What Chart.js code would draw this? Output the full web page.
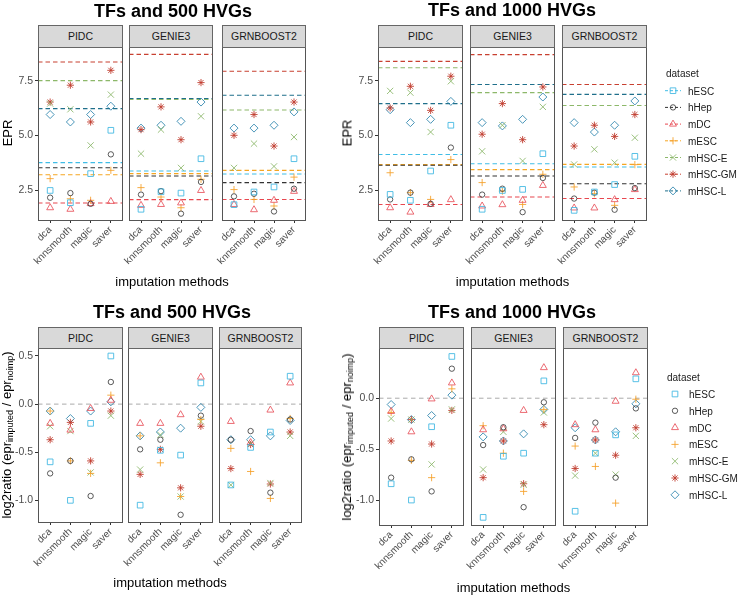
<!DOCTYPE html>
<html>
<head>
<meta charset="utf-8">
<script src="https://cdn.jsdelivr.net/npm/chart.js@4.4.0/dist/chart.umd.min.js"></script>
<style>
  body { margin: 0; background: #fff; width: 738px; height: 595px; position: relative; overflow: hidden;
         font-family: 'Liberation Sans', Arial, sans-serif; }
  canvas { position: absolute; left: 0; top: 0; }
  .txt { position: absolute; white-space: nowrap; color: #000; }
  .title { font-weight: bold; font-size: 18px; transform: translate(-50%, -50%); }
  .xlab { font-size: 13px; transform: translate(-50%, -50%); }
  .ylab { font-size: 13px; transform: translate(-50%, -50%) rotate(-90deg); }
  .ylab sub { font-size: 9px; vertical-align: -2px; }
  .strip { position: absolute; box-sizing: border-box; background: #d9d9d9; border: 1px solid #666;
           font-size: 10.5px; color: #1a1a1a; text-align: center; }
  .leg { font-size: 10px; color: #1a1a1a; transform: translateY(-50%); }
</style>
</head>
<body>
<script>
Chart.defaults.font.family = "'Liberation Sans', Arial, sans-serif";
Chart.defaults.color = '#4d4d4d';

const methods = ['dca', 'knnsmooth', 'magic', 'saver'];
const algorithms = ['PIDC', 'GENIE3', 'GRNBOOST2'];
const datasetNames = ['hESC', 'hHep', 'mDC', 'mESC', 'mHSC-E', 'mHSC-GM', 'mHSC-L'];
const pointColors = ['#3fb8e2dd', '#333333cc', '#e8545edd', '#f5a02add', '#8cb86add', '#c0392bdd', '#2f86aedd'];
const lineColors  = ['#40bde6', '#333333', '#e8474f', '#f5a623', '#8db86a', '#c84030', '#1f6f8b'];
const pointShapes = ['rect', 'circle', 'triangle', 'cross', 'crossRot', 'star', 'rectRot'];
const pointRadii  = [4, 2.7, 4, 3.6, 4.4, 3.6, 4];

const eprTicks = [2.5, 5.0, 7.5];
const ratioTicks500 = [-1.0, -0.5, 0.0, 0.5];
const ratioTicks1000 = [-1.0, -0.5, 0.0];
const zeroLine = 0;

// EPR, rows in datasetNames order, columns in methods order
const epr500Pidc = [
  [2.48, 1.92, 3.25, 5.23],
  [2.15, 2.36, 1.87, 4.13],
  [1.69, 1.62, 1.88, 1.98],
  [3.02, 2.10, 2.03, 3.40],
  [6.45, 6.19, 4.54, 6.86],
  [6.52, 7.29, 5.61, 7.97],
  [5.95, 5.61, 5.95, 6.33]
];
const epr500Genie3 = [
  [1.62, 2.42, 2.36, 3.93],
  [2.29, 2.45, 1.42, 2.87],
  [1.80, 1.84, 1.91, 2.48],
  [2.61, 2.18, 1.69, 2.99],
  [4.16, 5.26, 3.51, 5.87],
  [5.26, 6.30, 4.80, 7.41],
  [5.33, 5.46, 5.64, 6.52]
];
const epr500Grnboost2 = [
  [1.83, 2.41, 2.64, 3.93],
  [2.21, 2.33, 1.52, 2.56],
  [1.84, 1.60, 2.03, 2.44],
  [2.52, 2.07, 1.77, 3.09],
  [3.51, 4.62, 3.58, 4.92],
  [5.00, 5.95, 4.51, 6.52],
  [5.33, 5.33, 5.46, 6.07]
];
const epr1000Pidc = [
  [2.30, 2.03, 3.37, 5.46],
  [2.07, 2.38, 1.87, 4.44],
  [1.69, 1.49, 1.84, 2.06],
  [3.29, 2.38, 2.07, 3.89],
  [7.03, 6.95, 5.15, 7.47],
  [6.25, 7.24, 6.14, 7.70],
  [6.17, 5.58, 5.73, 6.55]
];
const epr1000Genie3 = [
  [1.62, 2.48, 2.53, 4.16],
  [2.29, 2.56, 1.49, 3.05],
  [1.77, 1.83, 2.03, 2.71],
  [2.84, 2.45, 1.84, 3.22],
  [4.27, 5.46, 3.83, 6.30],
  [5.05, 6.45, 4.80, 7.21],
  [5.58, 5.43, 5.73, 6.75]
];
const epr1000Grnboost2 = [
  [1.57, 2.41, 2.75, 4.04],
  [2.11, 2.38, 1.60, 2.59],
  [1.68, 1.68, 2.06, 2.52],
  [2.64, 2.33, 1.80, 3.66],
  [3.67, 4.36, 3.75, 4.89],
  [4.51, 5.46, 4.95, 5.95],
  [5.58, 5.15, 5.46, 6.57]
];

// EPR without imputation (dashed lines), datasetNames order
const noimp500Pidc      = [3.75, 3.52, 1.91, 3.20, 7.50, 8.35, 6.22];
const noimp500Genie3    = [3.37, 3.14, 2.06, 3.25, 6.64, 8.70, 6.68];
const noimp500Grnboost2 = [3.23, 2.84, 2.07, 3.40, 6.16, 7.93, 6.83];
const noimp1000Pidc      = [4.12, 3.63, 1.84, 3.66, 8.09, 8.38, 6.45];
const noimp1000Genie3    = [3.70, 3.14, 2.18, 3.43, 6.95, 8.69, 7.32];
const noimp1000Grnboost2 = [3.55, 2.79, 2.11, 3.67, 6.36, 7.32, 6.87];

// log2(epr_imputed / epr_noimp)
const ratio500Pidc = [
  [-0.60, -1.00, -0.20, 0.50],
  [-0.72, -0.59, -0.955, 0.23],
  [-0.20, -0.27, -0.045, 0.04],
  [-0.072, -0.59, -0.72, 0.093],
  [-0.23, -0.28, -0.71, -0.12],
  [-0.37, -0.19, -0.59, -0.072],
  [-0.072, -0.15, -0.072, 0.024]
];
const ratio500Genie3 = [
  [-1.05, -0.48, -0.53, 0.22],
  [-0.47, -0.37, -1.15, -0.12],
  [-0.20, -0.20, -0.11, 0.28],
  [-0.33, -0.61, -0.96, -0.16],
  [-0.68, -0.32, -0.96, -0.18],
  [-0.73, -0.47, -0.87, -0.23],
  [-0.33, -0.29, -0.25, -0.034]
];
const ratio500Grnboost2 = [
  [-0.84, -0.45, -0.29, 0.29],
  [-0.37, -0.28, -0.92, -0.16],
  [-0.18, -0.40, -0.062, 0.22],
  [-0.46, -0.70, -0.98, -0.15],
  [-0.84, -0.41, -0.82, -0.33],
  [-0.67, -0.42, -0.83, -0.29],
  [-0.37, -0.37, -0.33, -0.17]
];
const ratio1000Pidc = [
  [-0.84, -1.00, -0.28, 0.41],
  [-0.78, -0.60, -0.915, 0.29],
  [-0.13, -0.33, -0.007, 0.15],
  [-0.14, -0.61, -0.78, 0.092],
  [-0.20, -0.21, -0.65, -0.11],
  [-0.42, -0.21, -0.45, -0.12],
  [-0.062, -0.21, -0.17, 0.03]
];
const ratio1000Genie3 = [
  [-1.17, -0.57, -0.54, 0.17],
  [-0.46, -0.285, -1.07, -0.04],
  [-0.31, -0.30, -0.12, 0.30],
  [-0.27, -0.54, -0.915, -0.11],
  [-0.70, -0.33, -0.85, -0.14],
  [-0.78, -0.42, -0.84, -0.26],
  [-0.38, -0.42, -0.35, -0.11]
];
const ratio1000Grnboost2 = [
  [-1.11, -0.54, -0.36, 0.19],
  [-0.39, -0.24, -0.78, -0.10],
  [-0.26, -0.31, -0.03, 0.25],
  [-0.47, -0.67, -1.03, -0.01],
  [-0.76, -0.54, -0.75, -0.37],
  [-0.69, -0.41, -0.56, -0.29],
  [-0.29, -0.41, -0.33, -0.055]
];

const xMin = 0.4, xMax = 4.6;
const yAxisW = 36, xAxisH = 55;

// page layout of the four plots
const blocks = [
  { title: 'TFs and 500 HVGs', cx: 173, ty: 11, xs: [[38, 123], [129, 213], [222, 306]],
    stripTop: 25, top: 46.7, bottom: 220, ymin: 1.13, ymax: 9.05, ticks: eprTicks,
    values: [epr500Pidc, epr500Genie3, epr500Grnboost2],
    lines: [noimp500Pidc, noimp500Genie3, noimp500Grnboost2],
    ylab: 'EPR', ylabX: 7, xlabY: 281 },
  { title: 'TFs and 1000 HVGs', cx: 512, ty: 10, xs: [[378, 463], [470, 555], [562, 647]],
    stripTop: 25, top: 46.7, bottom: 220, ymin: 1.13, ymax: 9.05, ticks: eprTicks,
    values: [epr1000Pidc, epr1000Genie3, epr1000Grnboost2],
    lines: [noimp1000Pidc, noimp1000Genie3, noimp1000Grnboost2],
    ylab: 'EPR', ylabX: 347, xlabY: 281,
    legend: { titleX: 666, titleY: 73, keyX: 673, textX: 688, y0: 90.7, dy: 16.7, withLine: true } },
  { title: 'TFs and 500 HVGs', cx: 172, ty: 311.5, xs: [[38, 123], [128, 213], [219, 302]],
    stripTop: 327, top: 348.3, bottom: 522, ymin: -1.225, ymax: 0.58, ticks: ratioTicks500,
    values: [ratio500Pidc, ratio500Genie3, ratio500Grnboost2], lines: null,
    ylab: 'log2ratio (epr<sub>imputed</sub> / epr<sub>noimp</sub>)', ylabX: 7, xlabY: 582 },
  { title: 'TFs and 1000 HVGs', cx: 512, ty: 311.5, xs: [[379, 464], [471, 556], [563, 648]],
    stripTop: 327, top: 348.3, bottom: 525, ymin: -1.245, ymax: 0.49, ticks: ratioTicks1000,
    values: [ratio1000Pidc, ratio1000Genie3, ratio1000Grnboost2], lines: null,
    ylab: 'log2ratio (epr<sub>imputed</sub> / epr<sub>noimp</sub>)', ylabX: 347, xlabY: 587,
    legend: { titleX: 667, titleY: 377, keyX: 675, textX: 689, y0: 394, dy: 16.8, withLine: false } }
];

// panel border on top of everything
const panelFrame = {
  id: 'panelFrame',
  afterDraw(chart) {
    const { ctx, chartArea: a } = chart;
    ctx.save();
    ctx.strokeStyle = '#555';
    ctx.lineWidth = 1;
    ctx.strokeRect(Math.round(a.left) + 0.5, Math.round(a.top) + 0.5,
                   Math.round(a.right - a.left) - 1, Math.round(a.bottom - a.top));
    ctx.restore();
  }
};

// legend symbols (labels are html)
const legendKeys = {
  id: 'legendKeys',
  afterDraw(chart, args, opts) {
    if (!opts.spec) return;
    const s = opts.spec, ctx = chart.ctx;
    datasetNames.forEach((name, d) => {
      const y = s.y0 + d * s.dy;
      ctx.save();
      ctx.lineWidth = 1;
      if (s.withLine) {
        ctx.strokeStyle = lineColors[d];
        ctx.setLineDash([3, 2]);
        ctx.beginPath();
        ctx.moveTo(s.keyX - 8, y);
        ctx.lineTo(s.keyX + 8, y);
        ctx.stroke();
        ctx.setLineDash([]);
      }
      ctx.strokeStyle = pointColors[d];
      ctx.fillStyle = 'rgba(0,0,0,0)';
      Chart.helpers.drawPoint(ctx, { pointStyle: pointShapes[d], radius: pointRadii[d], rotation: 0, borderWidth: 1 }, s.keyX, y);
      ctx.restore();
    });
  }
};

function addText(cls, html, x, y) {
  const el = document.createElement('div');
  el.className = 'txt ' + cls;
  el.innerHTML = html;
  el.style.left = x + 'px';
  el.style.top = y + 'px';
  document.body.appendChild(el);
}

function makeFacet(block, k) {
  const [x0, x1] = block.xs[k];
  const cv = document.createElement('canvas');
  cv.width = 738; cv.height = 595;
  document.body.appendChild(cv);

  const points = datasetNames.map((name, d) => ({
    label: name,
    data: block.values[k][d].map((v, m) => ({ x: m + 1, y: v })),
    showLine: false,
    pointStyle: pointShapes[d],
    pointRadius: pointRadii[d],
    pointBorderWidth: 1,
    borderColor: pointColors[d],
    backgroundColor: 'rgba(0,0,0,0)'
  }));
  const refs = block.lines
    ? datasetNames.map((name, d) => ({
        data: [{ x: xMin, y: block.lines[k][d] }, { x: xMax, y: block.lines[k][d] }],
        showLine: true, pointRadius: 0, borderWidth: 1.1, borderDash: [4.5, 3],
        borderColor: lineColors[d]
      }))
    : [{
        data: [{ x: xMin, y: zeroLine }, { x: xMax, y: zeroLine }],
        showLine: true, pointRadius: 0, borderWidth: 0.9, borderDash: [4.5, 3.5],
        borderColor: '#a0a0a0'
      }];

  const first = k === 0;
  const yW = first ? yAxisW : 0;
  new Chart(cv, {
    type: 'scatter',
    data: { datasets: points.concat(refs) },
    options: {
      responsive: false,
      animation: false,
      events: [],
      layout: { padding: { left: x0 - yW, right: 738 - x1, top: block.top, bottom: 595 - block.bottom - xAxisH } },
      plugins: {
        legend: { display: false },
        tooltip: { enabled: false },
        legendKeys: { spec: k === 2 ? block.legend : null }
      },
      scales: {
        x: {
          type: 'linear', min: xMin, max: xMax,
          afterBuildTicks: s => { s.ticks = methods.map((m, i) => ({ value: i + 1 })); },
          afterFit: s => { s.height = xAxisH; s.paddingLeft = 0; s.paddingRight = 0; },
          ticks: {
            callback: v => methods[Math.round(v) - 1],
            autoSkip: false, minRotation: 45, maxRotation: 45, padding: 1,
            color: '#4d4d4d', font: { size: 10 }
          },
          grid: { display: true, drawOnChartArea: false, drawTicks: true, tickLength: 3, color: '#333' },
          border: { display: false }
        },
        y: {
          type: 'linear', min: block.ymin, max: block.ymax, display: first,
          afterBuildTicks: s => { s.ticks = block.ticks.map(v => ({ value: v })); },
          afterFit: s => { s.width = yW; s.paddingTop = 0; s.paddingBottom = 0; },
          ticks: { callback: v => v.toFixed(1), padding: 2, color: '#4d4d4d', font: { size: 10.5 } },
          grid: { display: true, drawOnChartArea: false, drawTicks: true, tickLength: 3, color: '#333' },
          border: { display: false }
        }
      }
    },
    plugins: [panelFrame, legendKeys]
  });

  const strip = document.createElement('div');
  strip.className = 'strip';
  strip.style.left = x0 + 'px';
  strip.style.top = block.stripTop + 'px';
  strip.style.width = (x1 - x0) + 'px';
  strip.style.height = (block.top - block.stripTop + 1) + 'px';
  strip.style.lineHeight = (block.top - block.stripTop - 1) + 'px';
  strip.textContent = algorithms[k];
  document.body.appendChild(strip);
}

blocks.forEach(block => {
  [0, 1, 2].forEach(k => makeFacet(block, k));
  const left = block.xs[0][0], right = block.xs[2][1];
  addText('title', block.title, block.cx, block.ty);
  addText('xlab', 'imputation methods', (left + right) / 2, block.xlabY);
  addText('ylab', block.ylab, block.ylabX, (block.top + block.bottom) / 2);
  if (block.legend) {
    const s = block.legend;
    const t = document.createElement('div');
    t.className = 'txt leg';
    t.textContent = 'dataset';
    t.style.left = s.titleX + 'px';
    t.style.top = s.titleY + 'px';
    document.body.appendChild(t);
    datasetNames.forEach((name, d) => {
      const el = document.createElement('div');
      el.className = 'txt leg';
      el.textContent = name;
      el.style.left = s.textX + 'px';
      el.style.top = (s.y0 + d * s.dy) + 'px';
      document.body.appendChild(el);
    });
  }
});
</script>
</body>
</html>
